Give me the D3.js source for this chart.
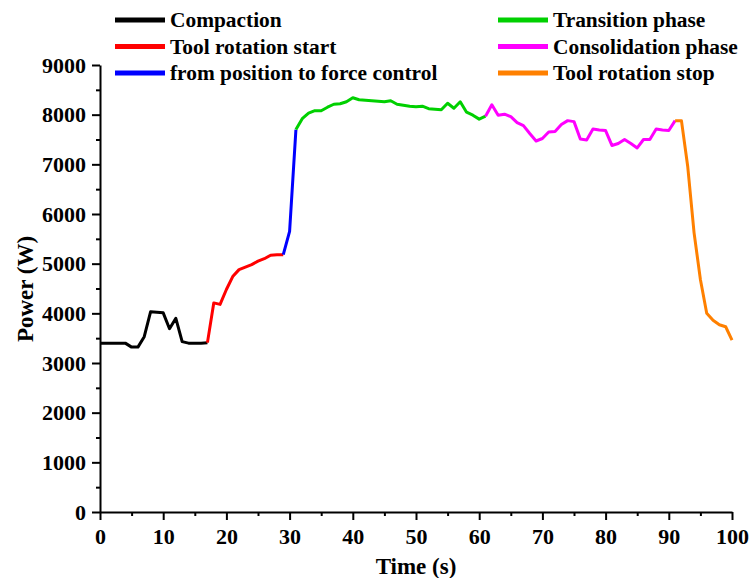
<!DOCTYPE html>
<html lang="en">
<head>
<meta charset="utf-8">
<title>Power vs time</title>
<script src="https://cdn.jsdelivr.net/npm/d3@7"></script>
<style>
  body { margin: 0; background: #fff; }
  text { font-family: "Liberation Serif", "Times New Roman", serif; font-weight: bold; }
</style>
</head>
<body>
<script>
var w = 752, h = 578;
var margin = { left: 100, right: 20, top: 65, bottom: 66 };

// time (s) and measured power (W)
var time = [0,1,2,3,4,5,6,7,8,9,10,11,12,13,14,15,16,17,18,19,20,
            21,22,23,24,25,26,27,28,29,30,31,32,33,34,35,36,37,38,39,40,
            41,42,43,44,45,46,47,48,49,50,51,52,53,54,55,56,57,58,59,60,
            61,62,63,64,65,66,67,68,69,70,71,72,73,74,75,76,77,78,79,80,
            81,82,83,84,85,86,87,88,89,90,91,92,93,94,95,96,97,98,99,100];
var power = [3400,3400,3400,3400,3400,3320,3320,3530,4030,4020,4010,
             3690,3900,3430,3400,3400,3400,3410,4210,4180,4480,
             4740,4880,4930,4980,5050,5100,5170,5180,5180,5650,
             7700,7920,8030,8080,8080,8150,8210,8220,8260,8340,
             8300,8290,8280,8270,8260,8280,8210,8190,8170,8160,
             8170,8120,8110,8100,8230,8130,8260,8050,7990,7910,
             7970,8200,7990,8010,7960,7840,7780,7620,7470,7520,
             7650,7660,7800,7880,7860,7510,7490,7710,7690,7680,
             7380,7420,7500,7420,7330,7500,7500,7710,7690,7680,
             7880,7880,6950,5620,4680,4000,3860,3770,3730,3460];

// phases: name, colour, first and last time index
var phaseNames = ["Compaction", "Tool rotation start", "from position to force control",
                  "Transition phase", "Consolidation phase", "Tool rotation stop"];
var phaseColors = ["#000000", "#ff0000", "#0000ff", "#00d000", "#ff00ff", "#ff8000"];
var phaseStart = [0, 17, 29, 31, 61, 91];
var phaseEnd   = [17, 29, 31, 61, 91, 100];

var xTicks = [0,10,20,30,40,50,60,70,80,90,100];
var yTicks = [0,1000,2000,3000,4000,5000,6000,7000,8000,9000];

var data = time.map(function(t, i) { return { t: t, p: power[i] }; });

var xScale = d3.scaleLinear().domain([0, 100]).range([margin.left, 732]);
var yScale = d3.scaleLinear().domain([0, 9000]).range([512, margin.top]);

var svg = d3.select("body").append("svg")
  .attr("width", w).attr("height", h);

// minor ticks
svg.append("g")
  .attr("transform", "translate(0,512)")
  .call(d3.axisBottom(xScale).tickValues(d3.range(5, 100, 10)).tickSize(4).tickFormat(""))
  .call(function(g) { g.select(".domain").remove(); })
  .selectAll("line").attr("stroke-width", 2);
svg.append("g")
  .attr("transform", "translate(" + margin.left + ",0)")
  .call(d3.axisLeft(yScale).tickValues(d3.range(500, 9000, 1000)).tickSize(4).tickFormat(""))
  .call(function(g) { g.select(".domain").remove(); })
  .selectAll("line").attr("stroke-width", 2);

// main axes
var xAxis = svg.append("g")
  .attr("transform", "translate(0,512)")
  .call(d3.axisBottom(xScale).tickValues(xTicks).tickSize(8).tickSizeOuter(0).tickPadding(6));
var yAxis = svg.append("g")
  .attr("transform", "translate(" + margin.left + ",0)")
  .call(d3.axisLeft(yScale).tickValues(yTicks).tickFormat(d3.format("d"))
        .tickSize(8).tickSizeOuter(0).tickPadding(6));

[xAxis, yAxis].forEach(function(a) {
  a.select(".domain").attr("stroke-width", 2);
  a.selectAll("line").attr("stroke-width", 2);
  a.selectAll("text")
    .attr("font-size", "22px")
    .attr("font-family", "Liberation Serif, serif")
    .attr("font-weight", "bold")
    .attr("fill", "#000");
});
xAxis.selectAll("text").attr("dy", "0.8em");

// lines by phase
var line = d3.line()
  .x(function(d) { return xScale(d.t); })
  .y(function(d) { return yScale(d.p); });

phaseNames.forEach(function(name, k) {
  svg.append("path")
    .datum(data.slice(phaseStart[k], phaseEnd[k] + 1))
    .attr("fill", "none")
    .attr("stroke", phaseColors[k])
    .attr("stroke-width", 3)
    .attr("stroke-linejoin", "round")
    .attr("d", line);
});

// legend, two columns
var legend = svg.append("g");
var order = [0, 3, 1, 4, 2, 5];
order.forEach(function(k, j) {
  var col = j % 2, row = Math.floor(j / 2);
  var x0 = col === 0 ? 115 : 498;
  var y0 = 20 + row * 26.5;
  legend.append("line")
    .attr("x1", x0).attr("x2", x0 + 50)
    .attr("y1", y0).attr("y2", y0)
    .attr("stroke", phaseColors[k])
    .attr("stroke-width", 5);
  legend.append("text")
    .attr("x", x0 + 55).attr("y", y0 + 7)
    .attr("font-size", "21.4px")
    .text(phaseNames[k]);
});

// axis titles
svg.append("text")
  .attr("x", 416).attr("y", 574)
  .attr("text-anchor", "middle")
  .attr("font-size", "23px")
  .text("Time (s)");
svg.append("text")
  .attr("transform", "translate(33,289) rotate(-90)")
  .attr("text-anchor", "middle")
  .attr("font-size", "23px")
  .text("Power (W)");
</script>
</body>
</html>
